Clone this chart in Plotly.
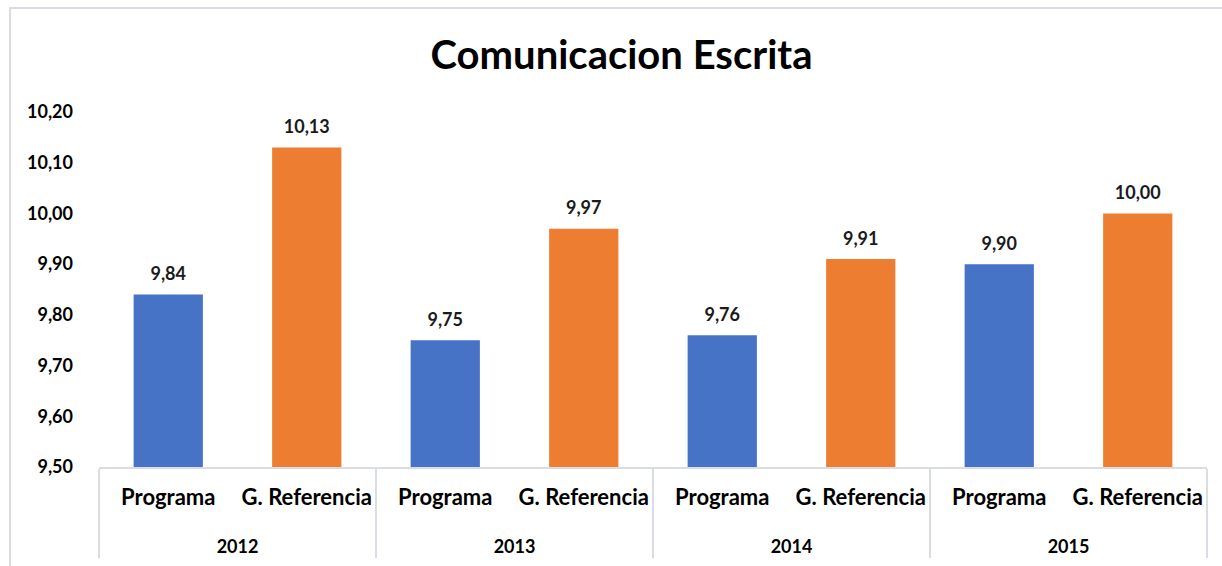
import plotly.graph_objects as go

# ── Data ──────────────────────────────────────────────────────────────────────
YEARS       = ["2012", "2013", "2014", "2015"]
GROUPS      = ["Programa", "G. Referencia"]
PROGRAMA    = [9.84, 9.75, 9.76, 9.90]
REFERENCIA  = [10.13, 9.97, 9.91, 10.00]
Y_TICKS     = [9.5, 9.6, 9.7, 9.8, 9.9, 10.0, 10.1, 10.2]

BLUE   = "#4673C6"
ORANGE = "#ED7D31"
GRID   = "#D9DDE3"
FONT   = "Lato, Open Sans, sans-serif"

# interleave both series so each year shows Programa then G. Referencia
# (year labels get a leading break so they sit lower, like the Excel table axis)
x_years, x_groups, values, colors = [], [], [], []
for yr, p, r in zip(YEARS, PROGRAMA, REFERENCIA):
    lbl = f"<br><span style='font-size:18px'>{yr}</span>"
    x_years += [lbl, lbl]
    x_groups += GROUPS
    values += [p, r]
    colors += [BLUE, ORANGE]

fig = go.Figure()
fig.add_trace(go.Bar(
    x=[x_years, x_groups],
    y=values,
    marker=dict(color=colors, line=dict(width=0)),
    hoverinfo="y",
))
# value labels: invisible markers push the text a bit higher above the bars
fig.add_trace(go.Scatter(
    x=[x_years, x_groups],
    y=values,
    mode="markers+text",
    marker=dict(size=14, opacity=0),
    texttemplate="<b>%{y:.2f}</b>",
    textposition="top center",
    textfont=dict(size=18, color="#1a1a1a", family=FONT),
    cliponaxis=False,
    hoverinfo="skip",
))

fig.update_layout(
    title=dict(text="<b>Comunicacion Escrita</b>", x=0.5086, xanchor="center",
               y=0.903, yanchor="middle",
               font=dict(size=40, color="#000000", family=FONT)),
    separators=",.",
    bargap=0.5,
    showlegend=False,
    paper_bgcolor="white",
    plot_bgcolor="white",
    font=dict(family=FONT, color="#000000"),
    margin=dict(l=99, r=15, t=112, b=99),
    width=1222, height=566,
)
fig.update_yaxes(
    range=[9.5, 10.2], tickvals=Y_TICKS, tickformat=".2f",
    showgrid=False, zeroline=False, showline=False,
    tickfont=dict(size=18, family=FONT, weight="bold"),
    ticklen=0, ticklabelstandoff=25, automargin=False,
)
fig.update_xaxes(
    type="multicategory",
    showline=True, linecolor=GRID, linewidth=2,
    showdividers=True, dividercolor=GRID, dividerwidth=2,
    tickfont=dict(size=22, family=FONT, weight="bold"),
    tickangle=0, ticklabelstandoff=10, automargin=False,
    showgrid=False,
)

# outer chart frame
fig.add_shape(type="rect", xref="paper", yref="paper",
              x0=-0.0803, x1=1.05, y0=-0.5, y1=1.293,
              line=dict(color=GRID, width=2), layer="below")

fig.write_html("out.html", config={"displayModeBar": False},
               post_script="document.body.style.margin='0';")
